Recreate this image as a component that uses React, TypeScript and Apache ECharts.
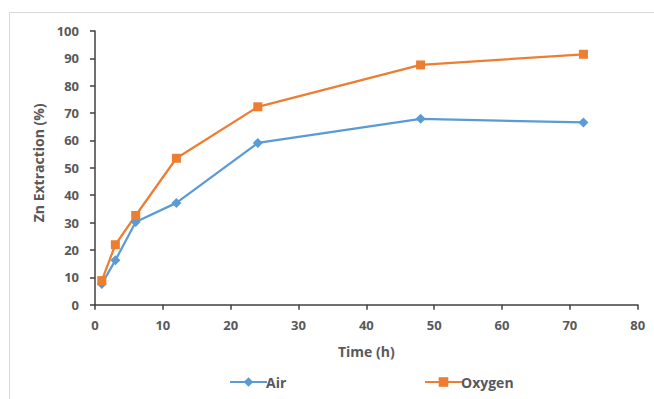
import React, { useEffect, useRef } from "react";
import * as echarts from "echarts";

const timeH = [1, 3, 6, 12, 24, 48, 72];
const airValues = [7.6, 16.2, 30.2, 37.2, 59.1, 67.9, 66.6];
const oxygenValues = [8.8, 21.9, 32.6, 53.5, 72.3, 87.6, 91.5];
const seriesNames = ["Air", "Oxygen"];

const FONT = "'Open Sans', sans-serif";
const TXT = "#595959";

export default function App() {
  const ref = useRef<HTMLDivElement>(null);
  useEffect(() => {
    const chart = echarts.init(ref.current!, undefined, { renderer: "svg" });
    const pair = (vals: number[]) => timeH.map((t, i) => [t, vals[i]]);
    const legendCommon = {
      top: 370,
      itemWidth: 37,
      itemHeight: 12,
      itemGap: 4,
      textStyle: { fontFamily: FONT, fontWeight: "bold", fontSize: 14, color: TXT, padding: [0, 0, 0, -6] },
    };
    chart.setOption({
      animation: false,
      backgroundColor: "#ffffff",
      textStyle: { fontFamily: FONT },
      graphic: [
        {
          type: "rect",
          shape: { x: 9.5, y: 12.5, width: 700, height: 500 },
          style: { fill: "none", stroke: "#d9d9d9", lineWidth: 1 },
          silent: true,
        },
      ],
      grid: { left: 95, right: 16.3, top: 31, bottom: 94.3 },
      xAxis: {
        type: "value",
        min: 0,
        max: 80,
        interval: 10,
        name: "Time (h)",
        nameLocation: "middle",
        nameGap: 40,
        nameTextStyle: { fontFamily: FONT, fontWeight: "bold", fontSize: 14, color: TXT },
        axisLine: { show: true, onZero: false, lineStyle: { color: "#404040", width: 1.5 } },
        axisTick: { show: true, length: 5, lineStyle: { color: "#404040", width: 1.5 } },
        axisLabel: { fontFamily: FONT, fontWeight: "bold", fontSize: 13, color: TXT, margin: 14 },
        splitLine: { show: false },
      },
      yAxis: {
        type: "value",
        min: 0,
        max: 100,
        interval: 10,
        name: "Zn Extraction (%)",
        nameLocation: "middle",
        nameRotate: 90,
        nameGap: 49,
        nameTextStyle: { fontFamily: FONT, fontWeight: "bold", fontSize: 14, color: TXT, padding: [0, 0, 0, 10] },
        axisLine: { show: true, onZero: false, lineStyle: { color: "#404040", width: 1.5 } },
        axisTick: { show: true, length: 5, lineStyle: { color: "#404040", width: 1.5 } },
        axisLabel: { fontFamily: FONT, fontWeight: "bold", fontSize: 13, color: TXT, margin: 16 },
        splitLine: { show: false },
      },
      legend: [
        { ...legendCommon, data: [seriesNames[0]], left: 224 },
        { ...legendCommon, data: [seriesNames[1]], left: 419 },
      ],
      series: [
        {
          name: seriesNames[0],
          type: "line",
          data: pair(airValues),
          symbol: "diamond",
          symbolSize: 10,
          color: "#5B9BD5",
          lineStyle: { width: 2.25, color: "#5B9BD5" },
          itemStyle: { color: "#5B9BD5" },
        },
        {
          name: seriesNames[1],
          type: "line",
          data: pair(oxygenValues),
          symbol: "rect",
          symbolSize: 9,
          color: "#ED7D31",
          lineStyle: { width: 2.25, color: "#ED7D31" },
          itemStyle: { color: "#ED7D31" },
        },
      ],
    });
    return () => chart.dispose();
  }, []);
  return (
    <div
      ref={ref}
      style={{ position: "fixed", left: 0, top: 0, width: 654, height: 399 }}
    />
  );
}
